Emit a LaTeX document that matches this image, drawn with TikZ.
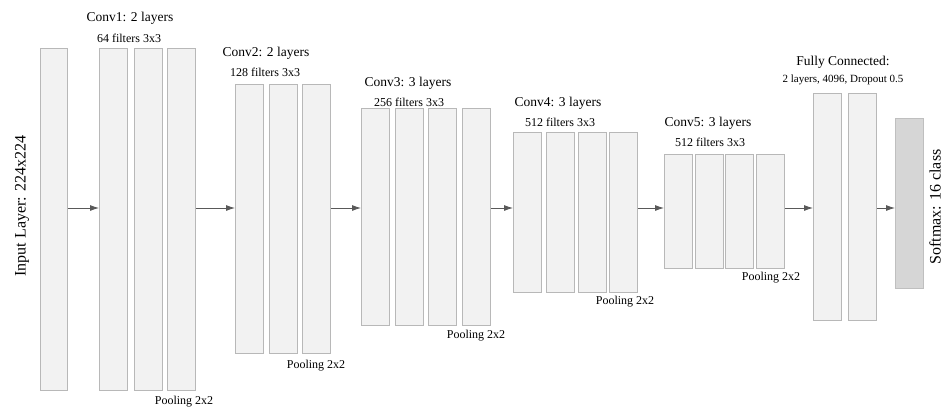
\documentclass[tikz,border=0pt]{standalone}
\usepackage{fontspec}
\setmainfont{Liberation Serif}
\usetikzlibrary{arrows.meta}

\begin{document}
\begin{tikzpicture}[x=1pt, y=-1pt,
    layer/.style={draw=black!28, fill=black!5, line width=0.8pt, inner sep=0pt,
        anchor=north west, minimum width=28pt},
    arr/.style={-{Latex[length=9pt,width=6pt]}, draw=black!65, line width=0.8pt},
    title/.style={font=\fontsize{13.5}{13.5}\selectfont, inner sep=0pt},
    sub/.style={font=\fontsize{12}{12}\selectfont, inner sep=0pt}]

    \useasboundingbox (0,0) rectangle (946,410);

    % Row of the arrows
    \def\ay{208}
    \coordinate (row) at (0,\ay);

    % Input layer
    \node[layer, minimum width=27pt, minimum height=342pt] (in) at (40,48) {};
    \node[rotate=90, font=\fontsize{16}{16}\selectfont] (inlab) at (22,206) {Input Layer: 224x224};

    % Conv1
    \foreach \x [count=\i] in {99,134,167}
        \node[layer, minimum height=342pt] (c1\i) at (\x,48) {};
    \node[title] (t1) at (130,18) {Conv1: 2 layers};
    \node[sub] (f1) at (129,38) {64 filters 3x3};
    \node[sub] (p1) at (184,402) {Pooling 2x2};

    % Conv2
    \foreach \x [count=\i] in {235,269,302}
        \node[layer, minimum height=269pt] (c2\i) at (\x,84) {};
    \node[title] (t2) at (266,53) {Conv2: 2 layers};
    \node[sub] (f2) at (265,72) {128 filters 3x3};
    \node[sub] (p2) at (316,366) {Pooling 2x2};

    % Conv3
    \foreach \x [count=\i] in {361,395,428,462}
        \node[layer, minimum height=217pt] (c3\i) at (\x,108) {};
    \node[title] (t3) at (408,83) {Conv3: 3 layers};
    \node[sub] (f3) at (409,102) {256 filters 3x3};
    \node[sub] (p3) at (476,336) {Pooling 2x2};

    % Conv4
    \foreach \x [count=\i] in {513,546,578,609}
        \node[layer, minimum height=160pt] (c4\i) at (\x,132) {};
    \node[title] (t4) at (558,103) {Conv4: 3 layers};
    \node[sub] (f4) at (560,122) {512 filters 3x3};
    \node[sub] (p4) at (625,302) {Pooling 2x2};

    % Conv5
    \foreach \x [count=\i] in {664,695,725,756}
        \node[layer, minimum height=114pt] (c5\i) at (\x,154) {};
    \node[title] (t5) at (708,123) {Conv5: 3 layers};
    \node[sub] (f5) at (710,142) {512 filters 3x3};
    \node[sub] (p5) at (771,278) {Pooling 2x2};

    % Fully connected
    \foreach \x [count=\i] in {813,848}
        \node[layer, minimum height=227pt] (fc\i) at (\x,93) {};
    \node[title] (t6) at (843,62) {Fully Connected:};
    \node[font=\fontsize{11}{11}\selectfont, inner sep=0pt] (f6) at (843,80) {2 layers, 4096, Dropout 0.5};

    % Softmax
    \node[layer, draw=black!25, fill=black!16, minimum height=170pt] (sm) at (895,118) {};
    \node[rotate=90, font=\fontsize{16}{16}\selectfont] (smlab) at (935,207) {Softmax: 16 class};

    % Arrows
    \draw[arr] (in.east |- row) -- (c11.west |- row);
    \draw[arr] (c13.east |- row) -- (c21.west |- row);
    \draw[arr] (c23.east |- row) -- (c31.west |- row);
    \draw[arr] (c34.east |- row) -- (c41.west |- row);
    \draw[arr] (c44.east |- row) -- (c51.west |- row);
    \draw[arr] (c54.east |- row) -- (fc1.west |- row);
    \draw[arr] (fc2.east |- row) -- (sm.west |- row);

\end{tikzpicture}
\end{document}
